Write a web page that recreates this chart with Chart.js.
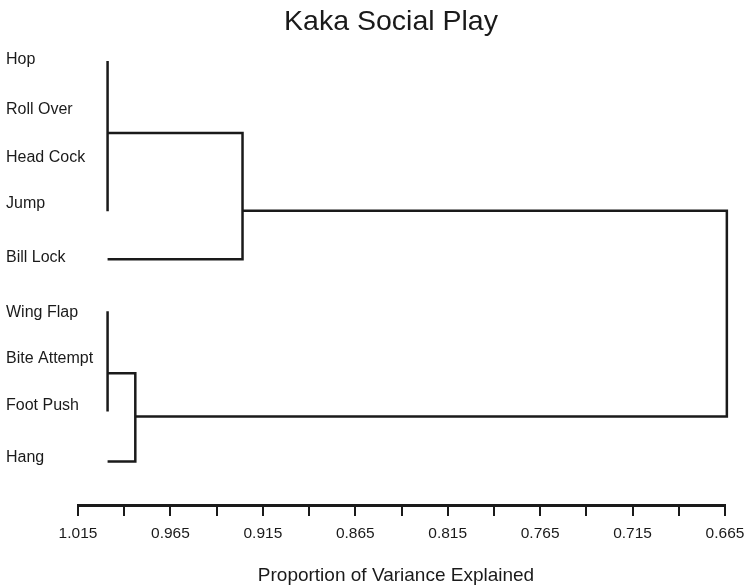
<!DOCTYPE html>
<html>
<head>
<meta charset="utf-8">
<script src="https://cdn.jsdelivr.net/npm/chart.js@4/dist/chart.umd.min.js"></script>
<style>
  body { margin: 0; background: #fff; }
  #wrap { width: 746px; height: 587px; position: relative; }
</style>
</head>
<body>
<div id="wrap"><canvas id="dendro"></canvas></div>
<script>
    // leaves, top to bottom, and the row where each label sits
    const leaves = ['Hop', 'Roll Over', 'Head Cock', 'Jump', 'Bill Lock', 'Wing Flap', 'Bite Attempt', 'Foot Push', 'Hang'];
    const labelRows = [-0.03, 0.98, 1.92, 2.84, 3.92, 5.02, 5.94, 6.88, 7.92];

    // x axis ticks (proportion of variance explained)
    const tickValues = [1.015, 0.99, 0.965, 0.94, 0.915, 0.89, 0.865, 0.84, 0.815, 0.79, 0.765, 0.74, 0.715, 0.69, 0.665];
    const tickLabels = ['1.015', '', '0.965', '', '0.915', '', '0.865', '', '0.815', '', '0.765', '', '0.715', '', '0.665'];

    // branches as [height, row] points
    const hopToJump = [[0.999, 0], [0.999, 3]];
    const groupWithBillLock = [[0.999, 1.44], [0.926, 1.44], [0.926, 3.96], [0.999, 3.96]];
    const wingFlapToFootPush = [[0.999, 5], [0.999, 7]];
    const groupWithHang = [[0.999, 6.24], [0.984, 6.24], [0.984, 8], [0.999, 8]];
    const rootJoin = [[0.926, 2.99], [0.664, 2.99], [0.664, 7.1], [0.984, 7.1]];

    const branches = [hopToJump, groupWithBillLock, wingFlapToFootPush, groupWithHang, rootJoin];
    const chartTitle = 'Kaka Social Play';
    const axisTitle = 'Proportion of Variance Explained';
    const ink = '#1a1a1a';
    const font = "'Liberation Sans', Arial, sans-serif";

    // titles sit a little right of the canvas centre in the original,
    // so they are drawn by hand instead of the title plugin
    const titlesPlugin = {
        id: 'titles',
        afterDraw(chart) {
            const c = chart.ctx;
            c.save();
            c.fillStyle = ink;
            c.textAlign = 'center';
            c.textBaseline = 'middle';
            c.font = '28.5px ' + font;
            c.fillText(chartTitle, 391, 22);
            c.font = '19px ' + font;
            c.fillText(axisTitle, 396, 575.5);
            c.restore();
        }
    };

    const ctx = document.getElementById('dendro').getContext('2d');
    const chart = new Chart(ctx, {
        type: 'scatter',
        data: {
            datasets: branches.map(b => ({
                data: b.map(p => ({ x: p[0], y: p[1] })),
                showLine: true,
                borderColor: ink,
                borderWidth: 2.5,
                pointRadius: 0,
                tension: 0,
                clip: false
            }))
        },
        options: {
            responsive: true,
            maintainAspectRatio: false,
            animation: false,
            layout: {
                padding: { left: 6, right: 21, top: 39, bottom: 36.4 }
            },
            plugins: {
                legend: { display: false },
                tooltip: { enabled: false },
                title: { display: false }
            },
            scales: {
                x: {
                    type: 'linear',
                    min: 0.665,
                    max: 1.015,
                    reverse: true,
                    afterBuildTicks: (scale) => {
                        scale.ticks = tickValues.map(v => ({ value: v }));
                    },
                    afterFit: (scale) => {
                        // let the end labels hang past the plot edges
                        scale.paddingLeft = 0;
                        scale.paddingRight = 0;
                    },
                    ticks: {
                        autoSkip: false,
                        maxRotation: 0,
                        padding: 8,
                        color: ink,
                        font: { family: font, size: 15.5 },
                        callback: (value, index) => tickLabels[index]
                    },
                    grid: {
                        drawOnChartArea: false,
                        drawTicks: true,
                        tickLength: 11,
                        color: ink,
                        lineWidth: 2
                    },
                    border: { display: true, color: ink, width: 3 }
                },
                y: {
                    type: 'linear',
                    min: -0.44,
                    max: 8.87,
                    reverse: true,
                    afterBuildTicks: (scale) => {
                        scale.ticks = labelRows.map(v => ({ value: v }));
                    },
                    afterFit: (scale) => {
                        scale.width = 72;
                    },
                    ticks: {
                        autoSkip: false,
                        mirror: true,
                        crossAlign: 'near',
                        padding: -72,
                        color: ink,
                        font: { family: font, size: 16 },
                        callback: (value, index) => leaves[index]
                    },
                    grid: { display: false },
                    border: { display: false }
                }
            }
        },
        plugins: [titlesPlugin]
    });
</script>
</body>
</html>
